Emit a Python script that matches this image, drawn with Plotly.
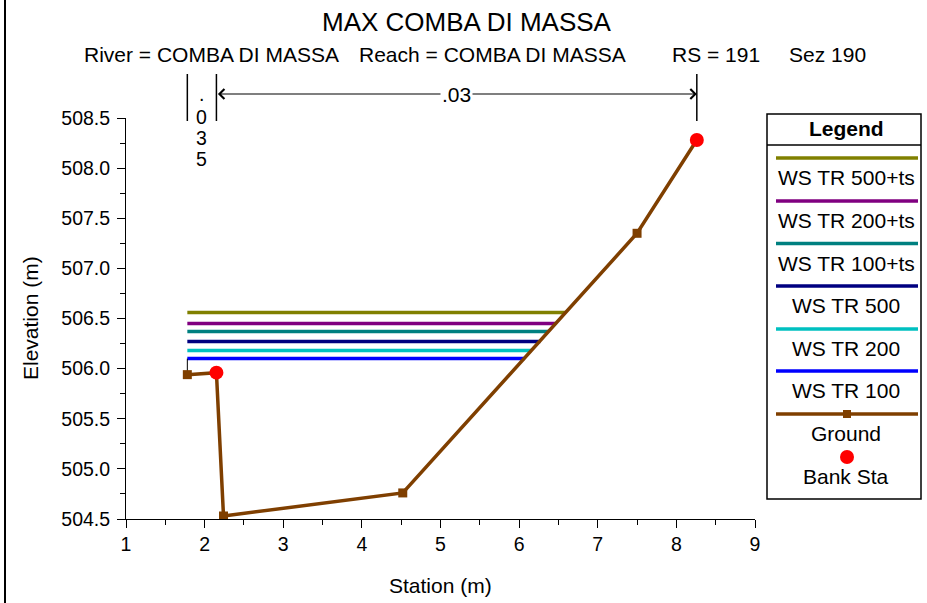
import plotly.graph_objects as go

# ground profile
station = [1.78, 2.15, 2.24, 4.52, 7.50, 8.26]
elevation = [505.94, 505.96, 504.53, 504.76, 507.35, 508.28]

# bank stations
bank_station = [2.15, 8.26]
bank_elev = [505.96, 508.28]

# water surfaces
ws_names = ["WS TR 500+ts", "WS TR 200+ts", "WS TR 100+ts", "WS TR 500", "WS TR 200", "WS TR 100"]
ws_elev = [506.56, 506.45, 506.37, 506.27, 506.18, 506.10]
ws_left = [1.78, 1.78, 1.78, 1.78, 1.78, 1.78]
ws_right = [6.59, 6.46, 6.37, 6.27, 6.16, 6.07]
ws_colors = ["#808000", "#800080", "#008080", "#000080", "#00C0C0", "#0000FF"]

# manning n
n_left = ".035"
n_main = ".03"

GROUND = "#7F3F00"
FONT = "Liberation Sans, Arial, sans-serif"

W, H = 927, 603
L, R, T, B = 126, 172, 118, 84


def px(x):
    return (x - L) / (W - L - R)


def py(y):
    return (H - B - y) / (H - T - B)


def label(text, x, y, size=21, xanchor="center", yanchor="middle", **kw):
    return dict(text=text, xref="paper", yref="paper", x=px(x), y=py(y),
                xanchor=xanchor, yanchor=yanchor, showarrow=False,
                font=dict(size=size, family=FONT, color="black"), **kw)


fig = go.Figure()

for name, e, x0, x1, c in zip(ws_names, ws_elev, ws_left, ws_right, ws_colors):
    fig.add_trace(go.Scatter(x=[x0, x1], y=[e, e], mode="lines", name=name,
                             line=dict(color=c, width=3.5), showlegend=False))

# left edge of water
fig.add_trace(go.Scatter(x=[station[0], station[0]], y=[elevation[0], min(ws_elev)],
                         mode="lines", line=dict(color="black", width=1), showlegend=False))

fig.add_trace(go.Scatter(x=station, y=elevation, mode="lines+markers", name="Ground",
                         line=dict(color=GROUND, width=3.5),
                         marker=dict(symbol="square", size=9, color=GROUND), showlegend=False))

fig.add_trace(go.Scatter(x=bank_station, y=bank_elev, mode="markers", name="Bank Sta",
                         marker=dict(size=14, color="#FF0000"), showlegend=False))

shapes = []
annotations = []

# outer left border
shapes.append(dict(type="line", xref="paper", yref="paper", x0=px(5), x1=px(5),
                   y0=py(0), y1=py(H), line=dict(color="black", width=2)))

# titles
annotations.append(label("MAX COMBA DI MASSA", 467, 22, size=26))
for txt, xl in [("River = COMBA DI MASSA", 82), ("Reach = COMBA DI MASSA", 357),
                ("RS = 191", 670), ("Sez 190", 787)]:
    annotations.append(label(txt, xl, 55, xanchor="left"))

# axis titles
annotations.append(label("Elevation (m)", 30, 318, textangle=-90))
annotations.append(label("Station (m)", 440, 585))

# manning n markers
for xs in [station[0], bank_station[0], bank_station[1]]:
    shapes.append(dict(type="line", xref="x", yref="paper", x0=xs, x1=xs,
                       y0=py(74), y1=py(121), line=dict(color="black", width=1.5)))
annotations.append(dict(x=bank_station[1], y=py(94), xref="x", yref="paper",
                        ax=bank_station[0], ay=0, axref="x", ayref="pixel",
                        text="", showarrow=True, arrowside="end+start",
                        arrowhead=4, startarrowhead=4, arrowsize=1.6, arrowwidth=1.2,
                        arrowcolor="black", standoff=0, startstandoff=0))
annotations.append(dict(text=n_main, x=(bank_station[0] + bank_station[1]) / 2, y=py(95),
                        xref="x", yref="paper", xanchor="center", yanchor="middle",
                        showarrow=False, bgcolor="white",
                        font=dict(size=21, family=FONT, color="black")))
for ch, yc in zip(n_left, [94, 117, 138, 159]):
    annotations.append(dict(text=ch, x=(station[0] + bank_station[0]) / 2, y=py(yc),
                            xref="x", yref="paper", xanchor="center", yanchor="middle",
                            showarrow=False, font=dict(size=19.5, family=FONT, color="black")))

# legend box
lx0, lx1, ly0, ly1 = 767, 921, 114, 499
shapes.append(dict(type="rect", xref="paper", yref="paper", x0=px(lx0), x1=px(lx1),
                   y0=py(ly1), y1=py(ly0), line=dict(color="black", width=1.5),
                   fillcolor="white", layer="below"))
shapes.append(dict(type="line", xref="paper", yref="paper", x0=px(lx0), x1=px(lx1),
                   y0=py(145), y1=py(145), line=dict(color="black", width=1.5)))
annotations.append(label("<b>Legend</b>", 846, 128))

line_y = [158, 201, 243.5, 286, 329, 371]
text_y = [177, 220, 263, 305, 348, 390]
for name, c, yl, yt in zip(ws_names, ws_colors, line_y, text_y):
    shapes.append(dict(type="line", xref="paper", yref="paper", x0=px(776), x1=px(918),
                       y0=py(yl), y1=py(yl), line=dict(color=c, width=3.5)))
    annotations.append(label(name, 846, yt))

shapes.append(dict(type="line", xref="paper", yref="paper", x0=px(776), x1=px(918),
                   y0=py(414), y1=py(414), line=dict(color=GROUND, width=3.5)))
shapes.append(dict(type="rect", xref="paper", yref="paper", x0=px(843), x1=px(851),
                   y0=py(418), y1=py(410), line=dict(width=0), fillcolor=GROUND))
annotations.append(label("Ground", 846, 433))
shapes.append(dict(type="circle", xref="paper", yref="paper", x0=px(840), x1=px(854),
                   y0=py(464), y1=py(450), line=dict(width=0), fillcolor="#FF0000"))
annotations.append(label("Bank Sta", 846, 476))

fig.update_xaxes(range=[1, 9], dtick=1, showgrid=False, zeroline=False,
                 showline=True, linecolor="black", linewidth=1,
                 ticks="outside", ticklen=8, tickcolor="black",
                 minor=dict(dtick=0.5, ticks="outside", ticklen=5, tickcolor="black"),
                 tickfont=dict(size=19.5, family=FONT, color="black"))
fig.update_yaxes(range=[504.5, 508.5], dtick=0.5, tickformat=".1f", showgrid=False,
                 zeroline=False, showline=True, linecolor="black", linewidth=1,
                 ticks="outside", ticklen=8, tickcolor="black", ticklabelstandoff=3,
                 minor=dict(dtick=0.25, ticks="outside", ticklen=5, tickcolor="black"),
                 tickfont=dict(size=19.5, family=FONT, color="black"))

fig.update_layout(
    width=W, height=H,
    margin=dict(l=L, r=R, t=T, b=B),
    plot_bgcolor="white", paper_bgcolor="white",
    font=dict(family=FONT, color="black"),
    shapes=shapes, annotations=annotations,
    showlegend=False,
)

fig.write_html("out.html", config={"displayModeBar": False},
               post_script="document.body.style.margin='0';document.body.style.overflow='hidden';")
